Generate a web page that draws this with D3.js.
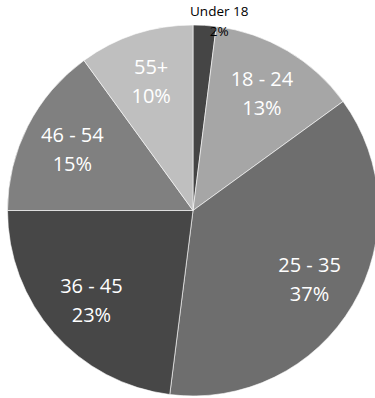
<!DOCTYPE html>
<html lang="en">
<head>
  <meta charset="UTF-8" />
  <title>Age Groups</title>
  <style>
    body {
      margin: 0;
      background: #fff;
    }
    svg {
      display: block;
    }
    .slice-label {
      font-family: "Open Sans", sans-serif;
      font-size: 20px;
      fill: #fff;
    }
    .outer-label {
      font-family: "Open Sans", sans-serif;
      font-size: 13.5px;
      fill: #000;
    }
  </style>
</head>
<body>
  <div id="chart"></div>

  <script src="https://d3js.org/d3.v7.min.js"></script>
  <script>
    // Chart data
    const ageGroups = ["Under 18", "18 - 24", "25 - 35", "36 - 45", "46 - 54", "55+"];
    const shares = [2, 13, 37, 23, 15, 10];
    const sliceColors = ["#454545", "#a6a6a6", "#6e6e6e", "#474747", "#808080", "#bfbfbf"];

    const data = ageGroups.map((g, i) => ({ name: g, value: shares[i], color: sliceColors[i] }));

    const width = 375, height = 398;
    const cx = 193, cy = 210.5, radius = 185.5;

    const svg = d3.select("#chart")
      .append("svg")
      .attr("width", width)
      .attr("height", height);

    const g = svg.append("g")
      .attr("transform", `translate(${cx},${cy})`);

    const pie = d3.pie()
      .sort(null)
      .value(d => d.value);

    const arc = d3.arc()
      .innerRadius(0)
      .outerRadius(radius);

    // labels sit roughly 3/4 of the way out
    const labelArc = d3.arc()
      .innerRadius(radius * 0.73)
      .outerRadius(radius * 0.73);

    const outerArc = d3.arc()
      .innerRadius(radius * 1.05)
      .outerRadius(radius * 1.05);

    const arcs = pie(data);

    // Slices
    g.selectAll("path")
      .data(arcs)
      .enter()
      .append("path")
      .attr("d", arc)
      .attr("fill", d => d.data.color)
      .attr("stroke", "#ffffff")
      .attr("stroke-opacity", 0.6)
      .attr("stroke-width", 1);

    // Labels inside the bigger slices
    const inside = arcs.filter(d => d.data.value >= 5);
    const outside = arcs.filter(d => d.data.value < 5);

    const inLabels = g.selectAll(".slice-label")
      .data(inside)
      .enter()
      .append("text")
      .attr("class", "slice-label")
      .attr("text-anchor", "middle")
      .attr("transform", d => `translate(${labelArc.centroid(d)})`);

    inLabels.append("tspan")
      .attr("x", 0)
      .attr("dy", -7.5)
      .text(d => d.data.name);

    inLabels.append("tspan")
      .attr("x", 0)
      .attr("dy", 29)
      .text(d => d.data.value + "%");

    // Small slice label outside
    const outLabels = g.selectAll(".outer-label")
      .data(outside)
      .enter()
      .append("text")
      .attr("class", "outer-label")
      .attr("text-anchor", "middle")
      .attr("transform", d => {
        const [x, y] = outerArc.centroid(d);
        return `translate(${x + 14},${y})`;
      });

    outLabels.append("tspan")
      .attr("x", 0)
      .attr("dy", 0)
      .text(d => d.data.name);

    outLabels.append("tspan")
      .attr("x", 0)
      .attr("dy", 20)
      .text(d => d.data.value + "%");
  </script>
</body>
</html>
